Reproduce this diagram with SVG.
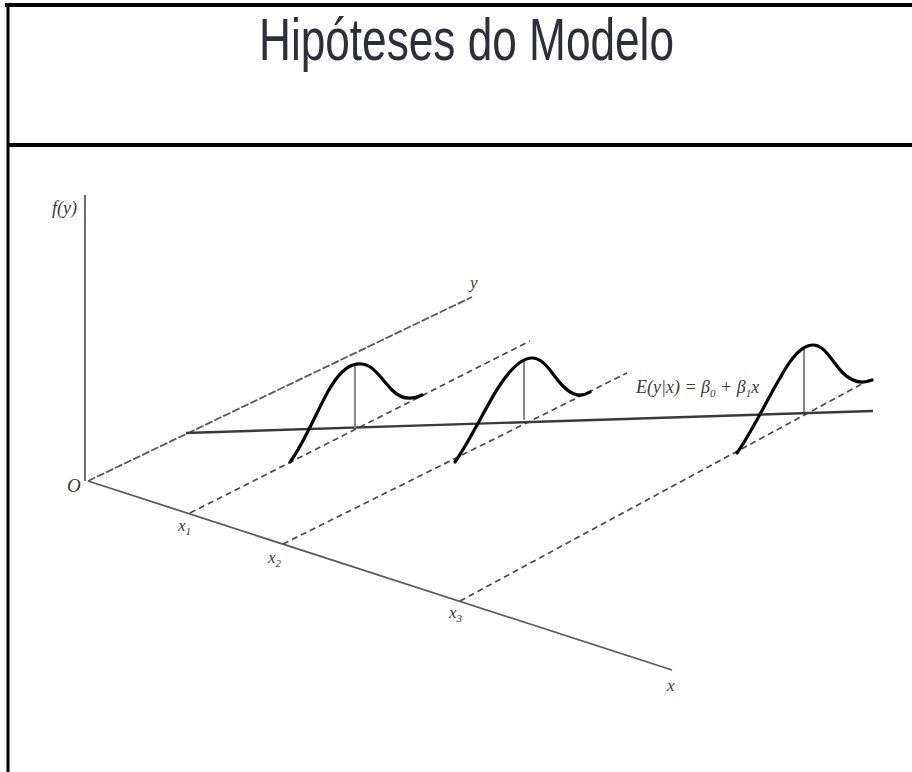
<svg xmlns="http://www.w3.org/2000/svg" width="912" height="772" viewBox="0 0 912 772">
<style>
.frame{stroke:#000;fill:none}
.axis{stroke:#5a5a5a;stroke-width:1.8;fill:none}
.dash{stroke:#4a4a4a;stroke-width:1.7;fill:none;stroke-dasharray:6 4}
.reg{stroke:#3a3a3a;stroke-width:2.4;fill:none}
.bell{stroke:#000;stroke-width:3.2;fill:none;stroke-linecap:round;stroke-linejoin:round}
.stem{stroke:#8a8a8a;stroke-width:2;fill:none}
.lbl{font-family:"Liberation Serif","DejaVu Serif",serif;font-style:italic;fill:#3a3a3a}
.sub{font-size:11px}
</style>
<rect width="912" height="772" fill="#fff"/>
<g id="frame">
<line class="frame" x1="5" y1="5" x2="912" y2="5" stroke-width="4"/>
<line class="frame" x1="8" y1="3" x2="8" y2="772" stroke-width="3"/>
<line class="frame" x1="8" y1="145" x2="912" y2="145" stroke-width="4"/>
</g>
<g id="title">
<text x="259" y="60" font-family="Liberation Sans, Arial, sans-serif" font-size="59" fill="#2e2e38" textLength="415" lengthAdjust="spacingAndGlyphs">Hipóteses do Modelo</text>
</g>
<g id="connectors">
<line id="fy-axis" class="axis" x1="85" y1="195" x2="85" y2="481"/>
<line id="y-axis" class="axis" x1="88" y1="481" x2="472" y2="297" stroke-dasharray="8 2"/>
<line id="x-axis" class="axis" x1="88" y1="481" x2="672" y2="670"/>
<line class="dash" x1="190" y1="513" x2="530" y2="341"/>
<line class="dash" x1="283" y1="544" x2="627" y2="373"/>
<line class="dash" x1="460" y1="601" x2="871" y2="379"/>
<line id="regression" class="reg" x1="186" y1="433" x2="873" y2="411"/>
</g>
<g id="bell1">
<line class="stem" x1="355" y1="366" x2="355" y2="428"/>
<path class="bell" d="M290,462 C305,442 318,408 330,388 C342,368 352,363 362,364 C374,365 382,380 392,390 C400,398 410,401 422,395"/>
</g>
<g id="bell2">
<line class="stem" x1="524" y1="360" x2="524" y2="420"/>
<path class="bell" d="M455,462 C472,438 488,402 500,385 C512,367 522,358 532,358 C545,358 552,375 563,386 C572,395 580,398 590,392"/>
</g>
<g id="bell3">
<line class="stem" x1="804" y1="349" x2="804" y2="412"/>
<path class="bell" d="M737,453 C752,432 768,398 780,378 C792,356 802,345 813,345 C825,345 832,362 843,373 C852,382 862,384 872,380"/>
</g>
<g id="labels">
<text class="lbl" x="52" y="214" font-size="19" textLength="25" lengthAdjust="spacingAndGlyphs">f(y)</text>
<text class="lbl" x="67" y="492" font-size="19">O</text>
<text class="lbl" x="470" y="288" font-size="17">y</text>
<text class="lbl" x="667" y="691" font-size="17">x</text>
<text class="lbl" x="178" y="531" font-size="17">x<tspan class="sub" dy="4">1</tspan></text>
<text class="lbl" x="268" y="563" font-size="17">x<tspan class="sub" dy="4">2</tspan></text>
<text class="lbl" x="449" y="618" font-size="17">x<tspan class="sub" dy="4">3</tspan></text>
<text class="lbl" x="636" y="393" font-size="18" fill="#777">E(y|x) = β<tspan class="sub" dy="4">0</tspan><tspan dy="-4"> + β</tspan><tspan class="sub" dy="4">1</tspan><tspan dy="-4">x</tspan></text>
</g>
</svg>
